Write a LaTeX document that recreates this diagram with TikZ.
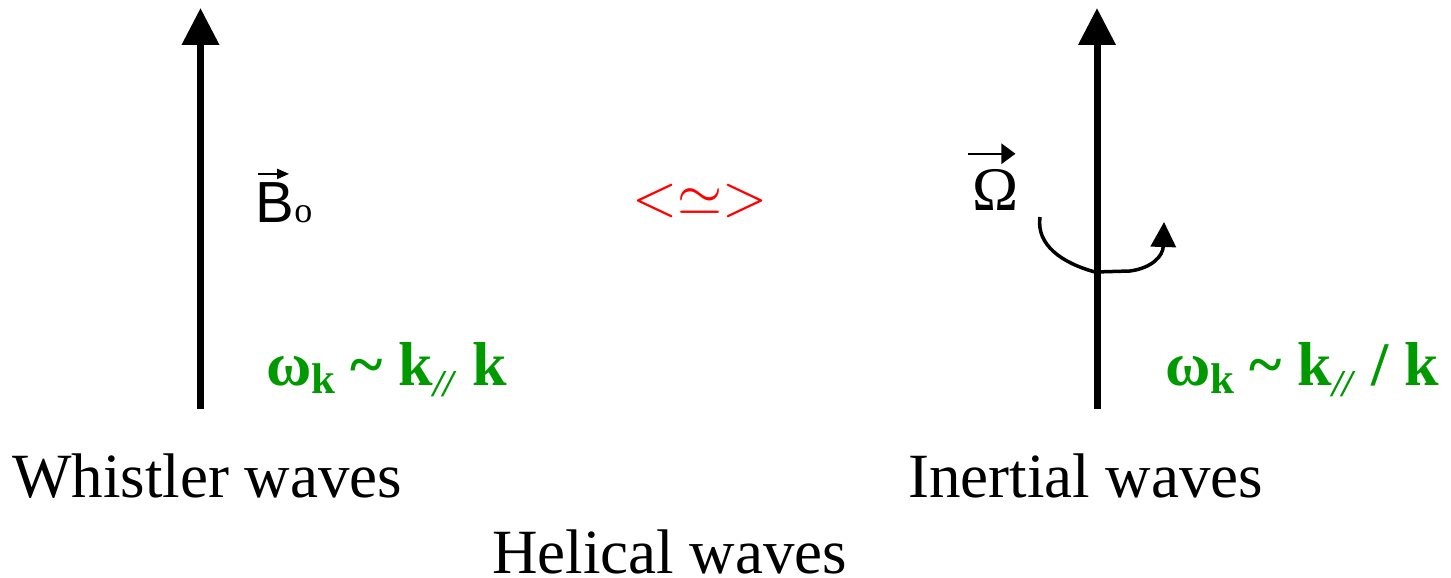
\documentclass[tikz,border=0pt]{standalone}
\usepackage{amsmath}
\usepackage{graphicx}
\usepackage{fontspec}
\setmainfont{Liberation Serif}
\newfontfamily\arialfont{Liberation Sans}
\usetikzlibrary{arrows.meta}
\definecolor{dispgreen}{HTML}{009900}
\definecolor{relred}{HTML}{FF0000}
\newcommand{\omk}{ω\raisebox{-8pt}{\fontsize{43}{44}\selectfont k}}
\newcommand{\kpar}{k\raisebox{-11pt}{\fontsize{38}{40}\selectfont\textit{//}}}
\tikzset{
  fieldline/.style = {line width=7pt, -{Triangle[length=37pt,width=36pt]}},
  spinline/.style  = {line width=3.5pt, -{Triangle[length=25pt,width=25pt]}},
  vecbar/.style    = {line width=2pt, -{Triangle[length=12pt,width=10pt]}},
  vecbarbig/.style = {line width=2.5pt, -{Triangle[length=14pt,width=20pt]}},
  wavelbl/.style   = {font=\fontsize{63}{70}\selectfont, inner sep=0pt, anchor=base west},
  displbl/.style   = {text=dispgreen, font=\fontsize{62}{66}\selectfont\bfseries,
                      inner sep=0pt, anchor=base west},
  symlbl/.style    = {inner sep=0pt, anchor=base west},
}
\begin{document}
\begin{tikzpicture}[x=1pt, y=-1pt]
    \useasboundingbox (0,0) rectangle (1451,578);
    % Left : magnetic field
    \coordinate (Bbot) at (200.5,409);
    \coordinate (Btop) at (200.5,8);
    \draw[fieldline] (Bbot) -- (Btop);
    \node[symlbl, font=\arialfont\fontsize{58}{60}\selectfont] (B) at (255,222) {B};
    \node[symlbl, font=\fontsize{36}{38}\selectfont] (Bsub) at (B.base east) {o};
    \draw[vecbar] ([xshift=3pt,yshift=8pt]B.north west) -- ([xshift=-5pt,yshift=8pt]B.north east);
    \node[displbl] (dispB) at (266,385) {\omk\ \textasciitilde\ \kpar\ k};

    % Middle : relation
    \node[text=relred, inner sep=0pt] (rel) at (700,201) {\scalebox{5.8}{${<}{\simeq}{>}$}};

    % Right : rotation axis
    \coordinate (Obot) at (1097,409);
    \coordinate (Otop) at (1097,8);
    \draw[fieldline] (Obot) -- (Otop);
    \node[symlbl, font=\fontsize{62}{64}\selectfont] (Om) at (972,210) {Ω};
    \draw[vecbarbig] ([xshift=-4pt,yshift=15pt]Om.north west) -- ([xshift=-3pt,yshift=15pt]Om.north east);
    \coordinate (spinA) at (1040,217);
    \coordinate (spinB) at (1095,272);
    \coordinate (spinC) at (1130,271);
    \coordinate (spinD) at (1164,222);
    \draw[spinline] (spinA) .. controls (1036,245) and (1062,263) .. (spinB)
        -- (spinC) .. controls (1152,268) and (1163,256) .. (spinD);
    \node[displbl] (dispO) at (1165,385) {\omk\ \textasciitilde\ \kpar\ / k};

    % Bottom : wave names
    \node[wavelbl] (whis) at (12,497) {Whistler waves};
    \node[wavelbl] (iner) at (908,497) {Inertial waves};
    \node[wavelbl] (heli) at (492,573) {Helical waves};
\end{tikzpicture}
\end{document}
